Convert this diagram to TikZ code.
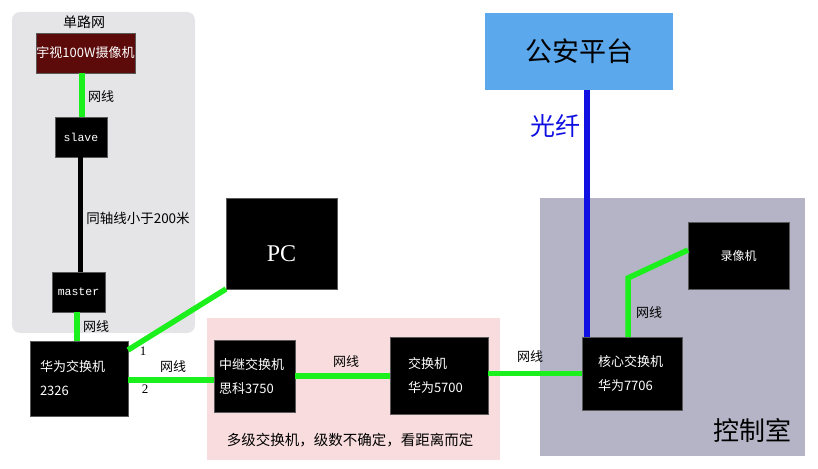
\documentclass[tikz,border=0pt]{standalone}
\usepackage{fontspec}
\newfontfamily\cjk{Noto Sans CJK SC}
\newfontfamily\monof{Liberation Mono}
\newfontfamily\serf{Liberation Serif}
\definecolor{wire}{RGB}{28,240,28}
\definecolor{fibre}{RGB}{16,16,226}
\definecolor{platfill}{RGB}{92,168,236}
\definecolor{roomfill}{RGB}{181,180,198}
\definecolor{relayfill}{RGB}{249,221,222}
\definecolor{singlefill}{RGB}{229,228,231}
\definecolor{camfill}{RGB}{92,10,10}

\begin{document}
\begin{tikzpicture}[x=1pt,y=-1pt,
    box/.style={fill=black,draw=black!65,text=white,inner sep=0pt,outer sep=0pt},
    twoline/.style={align=left,text width=#1,font=\cjk\fontsize{13}{24}\selectfont},
    lan/.style={draw=wire,line width=5.5pt},
    wirelabel/.style={font=\cjk\fontsize{13}{15}\selectfont}]
    \useasboundingbox (0,0) rectangle (818,468);
    %areas
    \fill[singlefill,rounded corners=8pt] (12,12) rectangle (195,333);
    \fill[relayfill] (207,318) rectangle (500,460);
    \fill[roomfill] (540,198) rectangle (805,456);
    \node[font=\cjk\fontsize{14}{16}\selectfont] at (84,22) {单路网};
    \node[font=\cjk\fontsize{14.5}{16}\selectfont] at (350,440) {多级交换机，级数不确定，看距离而定};
    \node[font=\cjk\fontsize{26}{28}\selectfont] at (752,430) {控制室};
    %devices
    \node[box,fill=camfill,minimum width=99pt,minimum height=40pt,font=\cjk\fontsize{13}{15}\selectfont] (cam) at (85.5,53) {宇视100W摄像机};
    \node[box,minimum width=52pt,minimum height=40pt,font=\monof\fontsize{11.5}{13}\selectfont] (slave) at (81,137) {slave};
    \node[box,minimum width=53pt,minimum height=40pt,font=\monof\fontsize{11.5}{13}\selectfont] (master) at (78.5,292) {master};
    \node[box,twoline=78pt,minimum width=98pt,minimum height=75pt] (sw2326) at (79,378.5) {华为交换机\\2326};
    \node[box,minimum width=111pt,minimum height=91pt,font=\serf\fontsize{24}{26}\selectfont] (pc) at (281.5,243.5) {\raisebox{-18pt}[0pt][0pt]{PC}};
    \node[box,twoline=71pt,minimum width=81pt,minimum height=72pt] (relay) at (254.5,376) {中继交换机\\思科3750};
    \node[box,twoline=62pt,minimum width=98pt,minimum height=77pt] (sw5700) at (439,375.5) {交换机\\华为5700};
    \node[box,twoline=68pt,minimum width=100pt,minimum height=73pt] (core) at (632,373.5) {核心交换机\\华为7706};
    \node[box,minimum width=101pt,minimum height=67pt,font=\cjk\fontsize{12}{14}\selectfont] (rec) at (738.5,255.5) {录像机};
    \node[fill=platfill,inner sep=0pt,minimum width=188pt,minimum height=77pt,font=\cjk\fontsize{27}{29}\selectfont] (plat) at (579,51.5) {公安平台};
    %links
    \draw[lan] ([xshift=-3.5pt]cam.south) -- ([xshift=-3.5pt]cam.south |- slave.north);
    \draw[draw=black,line width=5pt] ([xshift=-1pt]slave.south) -- ([xshift=-1pt]slave.south |- master.north);
    \draw[lan] ([xshift=-1.5pt]master.south) -- ([xshift=-1.5pt]master.south |- sw2326.north);
    \draw[lan] ([yshift=-9pt]sw2326.north east) -- (pc.south west);
    \draw[lan] ([yshift=-1.5pt]sw2326.east) -- ([yshift=-1.5pt]sw2326.east -| relay.west);
    \draw[lan] (relay.east) -- (relay.east -| sw5700.west);
    \draw[lan] (sw5700.east |- core.west) -- (core.west);
    \coordinate (bend) at (628,278);
    \draw[lan] ([xshift=-4pt]core.north) -- (bend) -- ([yshift=5.5pt]rec.west);
    \draw[draw=fibre,line width=6pt] ([xshift=5pt]core.north west) -- ([xshift=5pt]core.north west |- plat.south);
    %labels
    \node[wirelabel] at (101,97) {网线};
    \node[font=\cjk\fontsize{13.5}{15}\selectfont] at (138,218) {同轴线小于200米};
    \node[wirelabel] at (96,327) {网线};
    \node[font=\serf\fontsize{13}{14}\selectfont] at (143,351) {1};
    \node[font=\serf\fontsize{13}{14}\selectfont] at (145,389) {2};
    \node[wirelabel] at (173,367) {网线};
    \node[wirelabel] at (346,362) {网线};
    \node[wirelabel] at (530,357) {网线};
    \node[wirelabel] at (649,313) {网线};
    \node[font=\cjk\fontsize{25}{27}\selectfont,text=fibre] at (555,126) {光纤};
\end{tikzpicture}
\end{document}
